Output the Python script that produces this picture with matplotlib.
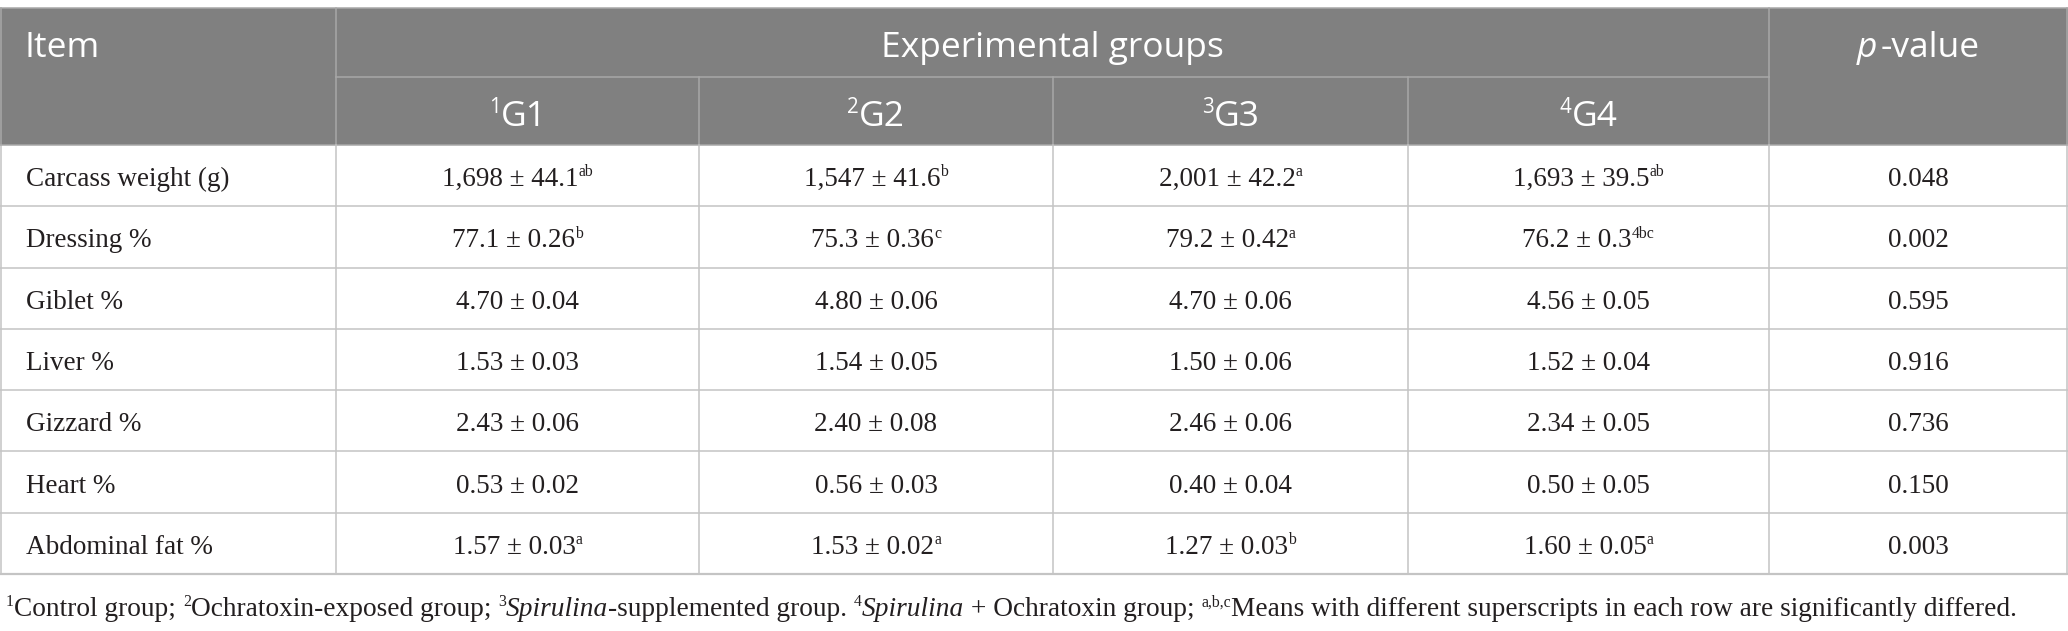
import matplotlib
matplotlib.use('Agg')
import matplotlib.pyplot as plt
from matplotlib.patches import Rectangle

# table content
items = ['Carcass weight (g)', 'Dressing %', 'Giblet %', 'Liver %',
         'Gizzard %', 'Heart %', 'Abdominal fat %']
groups = ['G1', 'G2', 'G3', 'G4']
g1 = ['1,698 ± 44.1', '77.1 ± 0.26', '4.70 ± 0.04', '1.53 ± 0.03',
      '2.43 ± 0.06', '0.53 ± 0.02', '1.57 ± 0.03']
g1_sup = ['ab', 'b', '', '', '', '', 'a']
g2 = ['1,547 ± 41.6', '75.3 ± 0.36', '4.80 ± 0.06', '1.54 ± 0.05',
      '2.40 ± 0.08', '0.56 ± 0.03', '1.53 ± 0.02']
g2_sup = ['b', 'c', '', '', '', '', 'a']
g3 = ['2,001 ± 42.2', '79.2 ± 0.42', '4.70 ± 0.06', '1.50 ± 0.06',
      '2.46 ± 0.06', '0.40 ± 0.04', '1.27 ± 0.03']
g3_sup = ['a', 'a', '', '', '', '', 'b']
g4 = ['1,693 ± 39.5', '76.2 ± 0.3', '4.56 ± 0.05', '1.52 ± 0.04',
      '2.34 ± 0.05', '0.50 ± 0.05', '1.60 ± 0.05']
g4_sup = ['ab', '4bc', '', '', '', '', 'a']
p_values = ['0.048', '0.002', '0.595', '0.916', '0.736', '0.150', '0.003']

footnote = [('1', 'sup'), ('Control group; ', 'n'), ('2', 'sup'),
            ('Ochratoxin-exposed group; ', 'n'), ('3', 'sup'),
            ('Spirulina', 'it'), ('-supplemented group. ', 'n'), ('4', 'sup'),
            ('Spirulina', 'it'), (' + Ochratoxin group; ', 'n'), ('a,b,c', 'sup'),
            ('Means with different superscripts in each row are significantly differed.', 'n')]

W, H = 2068, 631
col_x = [0, 336, 699, 1053, 1408, 1769, 2068]
top, mid, head_bot, bot = 8, 77, 145, 574
row_h = (bot - head_bot) / len(items)

HEAD_BG = '#808080'
HEAD_LINE = '#a8a8a8'
GRID = '#c4c4c4'
TXT = '#231f20'
SANS = 'Open Sans'
SERIF = 'Liberation Serif'

fig = plt.figure(figsize=(W / 100, H / 100), dpi=100)
ax = fig.add_axes([0, 0, 1, 1])
ax.set_xlim(0, W)
ax.set_ylim(H, 0)
ax.axis('off')
r = fig.canvas.get_renderer()


def runs(x, y, parts, fs, family, color, ha='center', it_gap=0.0):
    objs = []
    for s, kind in parts:
        size = fs * 0.58 if kind == 'sup' else fs
        style = 'italic' if kind == 'it' else 'normal'
        t = ax.text(0, y, s, fontsize=size, family=family, style=style,
                    color=color, va='baseline', ha='left')
        w = t.get_window_extent(r).width
        if kind == 'it':
            w += fs * it_gap
        objs.append((t, w, kind))
    total = sum(o[1] for o in objs)
    pos = x - total / 2 if ha == 'center' else x
    for t, w, kind in objs:
        t.set_x(pos)
        if kind == 'sup':
            t.set_y(y - fs * 1.389 * 0.36)
        pos += w


# header background
ax.add_patch(Rectangle((0, top), W, head_bot - top, color=HEAD_BG, lw=0))
ax.plot([0, W], [top, top], color=HEAD_LINE, lw=1.1)
ax.plot([col_x[1], col_x[5]], [mid, mid], color=HEAD_LINE, lw=1.1)
for x in col_x[1:6]:
    y0 = top if x in (col_x[1], col_x[5]) else mid
    ax.plot([x, x], [y0, head_bot], color=HEAD_LINE, lw=1.1)
ax.plot([0, W], [head_bot, head_bot], color=HEAD_LINE, lw=1.1)

# body grid
for i in range(1, len(items) + 1):
    y = head_bot + i * row_h
    ax.plot([0, W], [y, y], color=GRID, lw=1.1 if i < len(items) else 1.6)
for x in col_x:
    xx = min(max(x, 0.7), W - 0.7)
    ax.plot([xx, xx], [head_bot, bot], color=GRID, lw=1.1)
    if x in (col_x[0], col_x[-1]):
        ax.plot([xx, xx], [top, head_bot], color=HEAD_LINE, lw=1.1)

# header text
HFS = 25.5
runs(24, 57, [('Item', 'n')], HFS, SANS, 'white', ha='left')
runs((col_x[1] + col_x[5]) / 2, 57, [('Experimental groups', 'n')], HFS, SANS, 'white')
runs((col_x[5] + col_x[6]) / 2, 57, [('p', 'it'), ('-value', 'n')], HFS, SANS, 'white',
     it_gap=0.12)
for j, g in enumerate(groups):
    cx = (col_x[j + 1] + col_x[j + 2]) / 2
    runs(cx, 126, [(str(j + 1), 'sup'), (g, 'n')], HFS, SANS, 'white')

# body text
BFS = 19.5
cols = [(g1, g1_sup), (g2, g2_sup), (g3, g3_sup), (g4, g4_sup)]
for i, item in enumerate(items):
    base = head_bot + (i + 0.5) * row_h + 10.5
    runs(26, base, [(item, 'n')], BFS, SERIF, TXT, ha='left')
    for j, (vals, sups) in enumerate(cols):
        cx = (col_x[j + 1] + col_x[j + 2]) / 2
        parts = [(vals[i], 'n')]
        if sups[i]:
            parts.append((sups[i], 'sup'))
        runs(cx, base, parts, BFS, SERIF, TXT)
    runs((col_x[5] + col_x[6]) / 2, base, [(p_values[i], 'n')], BFS, SERIF, TXT)

# footnote
runs(6, 616, footnote, 19.7, SERIF, TXT, ha='left')

fig.savefig('out.png', dpi=100)
